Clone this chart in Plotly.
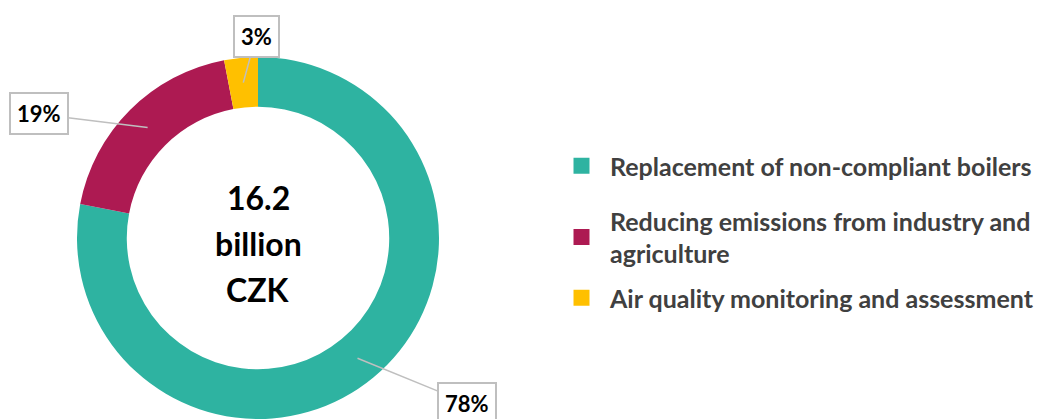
import math
import plotly.graph_objects as go

# ---------------- data ----------------
categories = [
    "Replacement of non-compliant boilers",
    "Reducing emissions from industry and agriculture",
    "Air quality monitoring and assessment",
]
legend_labels = [
    "Replacement of non-compliant boilers",
    "Reducing emissions from industry and<br>agriculture",
    "Air quality monitoring and assessment",
]
shares = [78, 19, 3]
colors = ["#2EB3A1", "#AD1A52", "#FFC000"]
center_lines = ["16.2", "billion", "CZK"]

# ---------------- layout geometry (pixels) ----------------
W, H = 1039, 419
CX, CY = 258, 238          # donut centre
R = 181                    # outer radius
HOLE = 0.725
FONT = "Lato"
# where each percentage call-out box sits (centre, px)
box_centres = [(467, 403), (39, 114), (256, 36)]
# centre text line positions (px from top)
center_line_y = [197, 243, 289]
# legend item vertical centres (px from top)
legend_centres = [166, 237, 298]
LEGEND_LEFT = 553

dom_x = [(CX - R) / W, (CX + R) / W]
dom_y = [max(0, 1 - (CY + R) / H), 1 - (CY - R) / H]

fig = go.Figure()
fig.add_trace(go.Pie(
    labels=categories,
    values=shares,
    marker=dict(colors=colors, line=dict(width=0)),
    hole=HOLE,
    sort=False,
    direction="clockwise",
    rotation=0,
    textinfo="none",
    showlegend=False,
    domain=dict(x=dom_x, y=dom_y),
))

# legend entries (one legend per item to control spacing)
legend_ids = ["legend", "legend2", "legend3"]
for lab, col, lid in zip(legend_labels, colors, legend_ids):
    fig.add_trace(go.Scatter(
        x=[None], y=[None], mode="markers", name=lab,
        marker=dict(symbol="square", size=16, color=col),
        legend=lid, showlegend=True, hoverinfo="skip",
    ))

annotations = []
total = sum(shares)
cum = 0
r_mid = R * (1 + HOLE) / 2
for v, (bx, by) in zip(shares, box_centres):
    mid = (cum + v / 2) / total
    cum += v
    th = 2 * math.pi * mid
    tx = CX + r_mid * math.sin(th)
    ty = CY - r_mid * math.cos(th)
    annotations.append(dict(
        x=tx / W, y=1 - ty / H, xref="paper", yref="paper",
        text=f"{round(100 * v / total)}%",
        showarrow=True, arrowhead=0, arrowwidth=1.5, arrowcolor="#BFBFBF",
        ax=bx - tx, ay=by - ty, standoff=0,
        bordercolor="#BFBFBF", borderwidth=2, borderpad=6, bgcolor="white",
        font=dict(family=FONT, size=22, color="black", weight="bold"),
    ))

for line, ly in zip(center_lines, center_line_y):
    annotations.append(dict(
        x=CX / W, y=1 - ly / H, xref="paper", yref="paper",
        text=line, showarrow=False,
        font=dict(family=FONT, size=32, color="black", weight="bold"),
        xanchor="center", yanchor="middle",
    ))

layout_legends = {}
for lid, yc in zip(legend_ids, legend_centres):
    layout_legends[lid] = dict(
        x=LEGEND_LEFT / W, xanchor="left", y=1 - yc / H, yanchor="middle",
        font=dict(family=FONT, size=25, color="#404040", weight="bold"),
        bgcolor="rgba(0,0,0,0)", borderwidth=0, itemwidth=47,
    )

fig.update_layout(
    width=W, height=H,
    margin=dict(l=0, r=0, t=0, b=0, autoexpand=False),
    paper_bgcolor="white", plot_bgcolor="white",
    xaxis=dict(visible=False), yaxis=dict(visible=False),
    annotations=annotations,
    **layout_legends,
)

fig.write_html("out.html")
